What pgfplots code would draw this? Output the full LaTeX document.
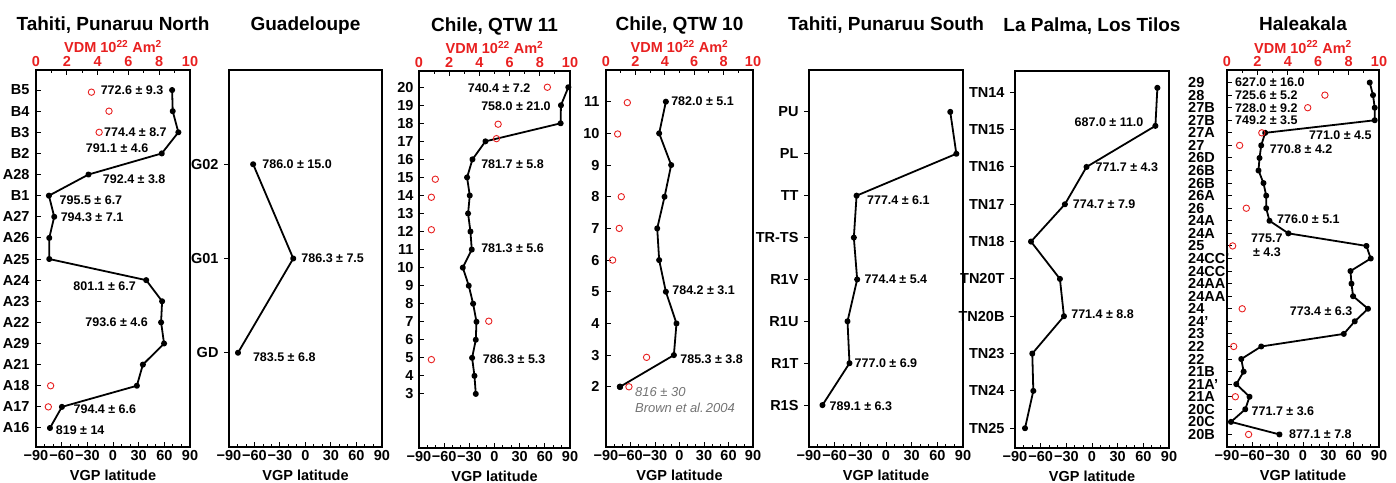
\documentclass[border=0pt]{standalone}
\usepackage{pgfplots}
\pgfplotsset{compat=1.18}
\usepackage{fontspec}
\setmainfont{Liberation Sans}
\definecolor{vdmred}{RGB}{232,32,32}
\definecolor{txtgray}{RGB}{115,115,115}
\newcommand{\fs}[1]{\fontsize{#1}{#1}\selectfont}
\tikzset{
 ann/.style={anchor=west, inner sep=0pt, font=\fs{12.5}\bfseries},
 gann/.style={anchor=west, inner sep=0pt, font=\fs{13}\itshape, text=txtgray},
}
\pgfplotsset{
 panel/.style={scale only axis, anchor=south west, height=377pt,
  xmin=-90, xmax=90, xtick={-90,-60,...,90}, xticklabels={−90,−60,−30,0,30,60,90},
  minor x tick num=2, xtick pos=left, ytick pos=left, tick align=inside,
  major tick length=5pt, minor tick length=3pt,
  axis line style={line width=1.4pt}, tick style={line width=1pt,black},
  tick label style={font=\fs{14.5}\bfseries},
  xlabel={VGP latitude}, xlabel style={font=\fs{14.5}\bfseries, at={(0.5,0)}, anchor=base, yshift=-33pt},
  title style={font=\fs{19}\bfseries, at={(0.5,1)}, anchor=base, yshift=33pt},
  clip=false},
 vdm/.style={scale only axis, anchor=south west, height=377pt,
  xmin=0, xmax=10, axis x line*=top, axis y line=none,
  xtick={0,2,...,10}, xticklabels={0,2,4,6,8,10}, minor x tick num=1, tick align=inside,
  major tick length=5pt, minor tick length=3pt,
  axis line style={line width=1.4pt}, tick style={line width=1pt,black},
  xticklabel style={font=\fs{14.5}\bfseries, text=vdmred},
  xlabel={VDM 10\textsuperscript{22} Am\textsuperscript{2}},
  xlabel style={font=\fs{14.5}\bfseries, text=vdmred, at={(0.5,1)}, anchor=base, yshift=17pt},
  clip=false},
 dat/.style={black, line width=1.8pt, line join=round, mark=*, mark size=2.1pt, mark options={solid}},
 vdmpts/.style={only marks, mark=o, mark size=3.2pt, vdmred, mark options={line width=0.9pt}},
}
\begin{document}
\begin{tikzpicture}
\useasboundingbox (0,0) rectangle (1396pt,482pt);

% ---------- Panel 1: Tahiti, Punaruu North
\begin{axis}[panel, at={(36pt,35pt)}, width=154pt, ymin=0.1, ymax=17.95,
  ytick={1,...,17}, yticklabels={A16,A17,A18,A21,A29,A22,A23,A24,A25,A26,A27,B1,A28,B2,B3,B4,B5},
  yticklabel style={xshift=-3pt}, title={Tahiti, Punaruu North}]
\addplot[dat] coordinates {(-73.7,1) (-59.7,2) (27.9,3) (34.9,4) (59.7,5) (56.2,6) (57.4,7) (38.8,8) (-74.5,9) (-74.5,10) (-68.7,11) (-74.9,12) (-28.7,13) (57.0,14) (76.4,15) (69.8,16) (69.1,17)};
\node[ann] at (axis cs:-14.5,17) {772.6 ± 9.3};
\node[ann] at (axis cs:-10.5,15) {774.4 ± 8.7};
\node[ann] at (axis cs:-32.0,14.24) {791.1 ± 4.6};
\node[ann] at (axis cs:-12.0,12.79) {792.4 ± 3.8};
\node[ann] at (axis cs:-62.5,11.79) {795.5 ± 6.7};
\node[ann] at (axis cs:-61.3,10.97) {794.3 ± 7.1};
\node[ann] at (axis cs:-46.5,7.71) {801.1 ± 6.7};
\node[ann] at (axis cs:-32.5,5.99) {793.6 ± 4.6};
\node[ann] at (axis cs:-46.2,1.87) {794.4 ± 6.6};
\node[ann] at (axis cs:-67.0,0.89) {819 ± 14};
\end{axis}
\begin{axis}[vdm, at={(36pt,35pt)}, width=154pt, ymin=0.1, ymax=17.95]
\addplot[vdmpts] coordinates {(0.8,2) (0.95,3) (4.1,15) (4.74,16) (3.6,16.9)};
\end{axis}

% ---------- Panel 2: Guadeloupe
\begin{axis}[panel, at={(229pt,35pt)}, width=153pt, ymin=0, ymax=4,
  ytick={1,2,3}, yticklabels={GD,G01,G02}, ytick align=outside,
  yticklabel style={xshift=-2pt}, title={Guadeloupe}]
\addplot[dat] coordinates {(-79.4,1) (-14.4,2) (-61.6,3)};
\node[ann] at (axis cs:-51,3) {786.0 ± 15.0};
\node[ann] at (axis cs:-5,2) {786.3 ± 7.5};
\node[ann] at (axis cs:-62,0.95) {783.5 ± 6.8};
\end{axis}

% ---------- Panel 3: Chile, QTW 11
\begin{axis}[panel, at={(419pt,34pt)}, width=151pt, ymin=0, ymax=20.9,
  ytick={3,...,20}, yticklabels={3,4,5,6,7,8,9,10,11,12,13,14,15,16,17,18,19,20},
  yticklabel style={xshift=-2pt}, title={Chile, QTW 11}]
\addplot[dat] coordinates {(-22.3,3) (-23.9,4) (-26.7,5) (-22.3,6) (-21.5,7) (-25.5,8) (-30.7,9) (-37.8,10) (-27.1,11) (-28.7,12) (-31.5,13) (-29.5,14) (-32.7,15) (-26.3,16) (-10.8,17) (78.8,18) (79.2,19) (88.0,20)};
\node[ann] at (axis cs:-32,19.93) {740.4 ± 7.2};
\node[ann] at (axis cs:-16,18.93) {758.0 ± 21.0};
\node[ann] at (axis cs:-16,15.75) {781.7 ± 5.8};
\node[ann] at (axis cs:-16,11.07) {781.3 ± 5.6};
\node[ann] at (axis cs:-14,4.9) {786.3 ± 5.3};
\end{axis}
\begin{axis}[vdm, at={(419pt,34pt)}, width=151pt, ymin=0, ymax=20.9]
\addplot[vdmpts] coordinates {(8.5,20) (5.24,17.95) (5.13,17.15) (1.08,14.9) (0.82,13.9) (0.82,12.1) (4.62,7.03) (0.82,4.9)};
\end{axis}

% ---------- Panel 4: Chile, QTW 10
\begin{axis}[panel, at={(606pt,35pt)}, width=147pt, ymin=0.1, ymax=12,
  ytick={2,...,11}, yticklabels={2,3,4,5,6,7,8,9,10,11},
  yticklabel style={xshift=-3pt}, title={Chile, QTW 10}]
\addplot[dat] coordinates {(-72.9,2) (-6.9,3) (-3.7,4) (-16.7,5) (-24.9,6) (-27.3,7) (-18.3,8) (-10.2,9) (-24.9,10) (-16.7,11)};
\addplot[black, only marks, mark=*, mark size=3pt] coordinates {(-72.9,2)};
\node[ann] at (axis cs:-10.3,11.0) {782.0 ± 5.1};
\node[ann] at (axis cs:-9.0,5.06) {784.2 ± 3.1};
\node[ann] at (axis cs:0.8,2.88) {785.3 ± 3.8};
\node[gann] at (axis cs:-54.6,1.84) {816 ± 30};
\node[gann] at (axis cs:-54.6,1.35) {Brown et al.\,2004};
\end{axis}
\begin{axis}[vdm, at={(606pt,35pt)}, width=147pt, ymin=0.1, ymax=12]
\addplot[vdmpts] coordinates {(1.45,10.97) (0.79,9.98) (1.04,8.0) (0.9,7.0) (0.45,6.0) (2.76,2.93) (1.56,2.0)};
\end{axis}

% ---------- Panel 5: Tahiti, Punaruu South
\begin{axis}[panel, at={(809pt,35pt)}, width=154pt, ymin=0, ymax=9,
  ytick={1,...,8}, yticklabels={R1S,R1T,R1U,R1V,TR-TS,TT,PL,PU}, ytick align=outside,
  yticklabel style={xshift=-2pt}, title={Tahiti, Punaruu South}]
\addplot[dat] coordinates {(-74.3,1) (-42.7,2) (-45.0,3) (-33.7,4) (-37.6,5) (-34.4,6) (82.2,7) (75.1,8)};
\node[ann] at (axis cs:-22.3,5.9) {777.4 ± 6.1};
\node[ann] at (axis cs:-25.1,4.0) {774.4 ± 5.4};
\node[ann] at (axis cs:-36.8,1.99) {777.0 ± 6.9};
\node[ann] at (axis cs:-66.1,0.98) {789.1 ± 6.3};
\end{axis}

% ---------- Panel 6: La Palma, Los Tilos
\begin{axis}[panel, at={(1015pt,34pt)}, width=154pt, ymin=0.47, ymax=10.57,
  ytick={1,...,10}, yticklabels={TN25,TN24,TN23,TN20B,TN20T,TN18,TN17,TN16,TN15,TN14}, ytick align=outside,
  yticklabel style={xshift=-2pt}, title={La Palma, Los Tilos}]
\addplot[dat] coordinates {(-78.3,1) (-68.6,2) (-69.8,3) (-32.8,4) (-37.5,5) (-71.3,6) (-31.7,7) (-6.4,8) (74.1,9.1) (76.4,10.12)};
\node[ann] at (axis cs:-20.5,9.2) {687.0 ± 11.0};
\node[ann] at (axis cs:4.0,8.0) {771.7 ± 4.3};
\node[ann] at (axis cs:-22.5,7.01) {774.7 ± 7.9};
\node[ann] at (axis cs:-24.4,4.05) {771.4 ± 8.8};
\end{axis}

% ---------- Panel 7: Haleakala
\begin{axis}[panel, at={(1227pt,35pt)}, width=152pt, ymin=0, ymax=30,
  ytick={1,...,29},
  yticklabels={20B,20C,20C,21A,21A’,21B,22,22,23,24’,24,24AA,24AA,24CC,24CC’,25,24A,24A,26,26A,26B,26B,26D,27,27A,27B,27B,28,29},
  yticklabel style={anchor=west, inner sep=0pt, xshift=-39pt}, title={Haleakala}]
\addplot[dat] coordinates {(-27.9,1) (-85.3,2) (-68.4,3) (-63.3,4) (-79.0,5) (-70.3,6) (-73.1,7) (-49.5,8) (48.3,9) (61.3,10) (77.0,11) (59.3,12) (57.4,13) (56.2,14) (80.2,15) (75.1,16) (-17.3,17) (-39.7,18) (-43.6,19) (-43.6,20) (-46.8,21) (-52.7,22) (-51.5,23) (-49.5,24) (-44.8,25) (84.9,26) (84.9,27) (82.9,28) (79.0,29)};
\node[ann] at (axis cs:-80.6,29.05) {627.0 ± 16.0};
\node[ann] at (axis cs:-80.6,28.0) {725.6 ± 5.2};
\node[ann] at (axis cs:-80.6,27.0) {728.0 ± 9.2};
\node[ann] at (axis cs:-80.6,26.03) {749.2 ± 3.5};
\node[ann] at (axis cs:7.0,24.8) {771.0 ± 4.5};
\node[ann] at (axis cs:-39.4,23.7) {770.8 ± 4.2};
\node[ann] at (axis cs:-30.8,18.1) {776.0 ± 5.1};
\node[ann, anchor=center] at (axis cs:-42.8,16.63) {775.7};
\node[ann, anchor=center] at (axis cs:-42.8,15.49) {± 4.3};
\node[ann] at (axis cs:-15.8,10.8) {773.4 ± 6.3};
\node[ann] at (axis cs:-61.0,2.85) {771.7 ± 3.6};
\node[ann] at (axis cs:-16.6,1.05) {877.1 ± 7.8};
\end{axis}
\begin{axis}[vdm, at={(1227pt,35pt)}, width=152pt, ymin=0, ymax=30]
\addplot[vdmpts] coordinates {(6.44,28) (5.31,27) (2.29,25) (0.83,24) (1.27,19) (0.37,16) (1.0,11) (0.44,8) (0.55,4) (1.42,1)};
\end{axis}
\end{tikzpicture}
\end{document}
